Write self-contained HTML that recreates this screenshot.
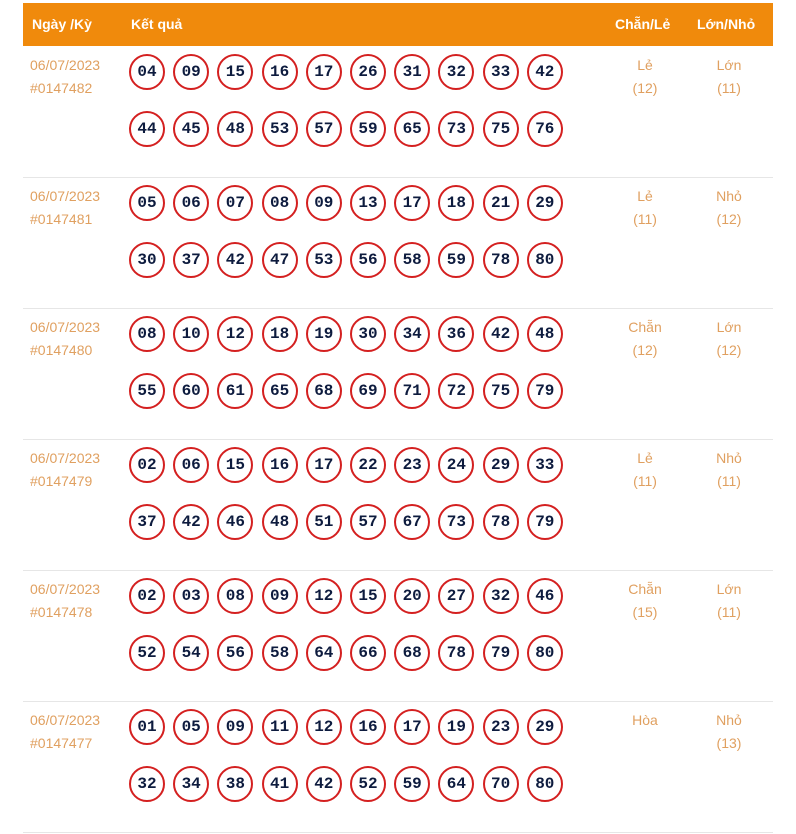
<!DOCTYPE html>
<html><head><meta charset="utf-8"><style>
body{margin:0;background:#fff;width:796px;height:834px;overflow:hidden;font-family:"Liberation Sans",sans-serif;position:relative}
.hd{position:absolute;left:23px;top:3px;width:750px;height:43px;background:#f08a0c;color:#fff;font-weight:bold;font-size:14px}
.hd span{position:absolute;top:13px}
.row{position:absolute;left:23px;width:750px;height:131px;border-bottom:1px solid #e6e6e6}
.t{position:absolute;color:#e0a060;font-size:14px;line-height:23px}
.b{position:absolute;width:32px;height:32px;border:2px solid #d42020;border-radius:50%;text-align:center;line-height:32px;font-family:"Liberation Mono",monospace;font-weight:bold;font-size:16px;color:#0d1b3e}
</style></head><body>
<div class="hd"><span style="left:9px">Ngày /Kỳ</span><span style="left:108px">Kết quả</span><span style="left:592px">Chẵn/Lẻ</span><span style="left:674px">Lớn/Nhỏ</span></div>
<div id="c"></div>
<script>
var d=[["0147482","04 09 15 16 17 26 31 32 33 42 44 45 48 53 57 59 65 73 75 76","Lẻ","(12)","Lớn","(11)"],
["0147481","05 06 07 08 09 13 17 18 21 29 30 37 42 47 53 56 58 59 78 80","Lẻ","(11)","Nhỏ","(12)"],
["0147480","08 10 12 18 19 30 34 36 42 48 55 60 61 65 68 69 71 72 75 79","Chẵn","(12)","Lớn","(12)"],
["0147479","02 06 15 16 17 22 23 24 29 33 37 42 46 48 51 57 67 73 78 79","Lẻ","(11)","Nhỏ","(11)"],
["0147478","02 03 08 09 12 15 20 27 32 46 52 54 56 58 64 66 68 78 79 80","Chẵn","(15)","Lớn","(11)"],
["0147477","01 05 09 11 12 16 17 19 23 29 32 34 38 41 42 52 59 64 70 80","Hòa","","Nhỏ","(13)"]];
var h="";
d.forEach(function(r,i){var top=46+i*131;
h+='<div class="row" style="top:'+top+'px"></div>';
h+='<div class="t" style="left:30px;top:'+(top+8)+'px">06/07/2023<br>#'+r[0]+'</div>';
h+='<div class="t" style="left:605px;width:80px;text-align:center;top:'+(top+8)+'px">'+r[2]+'<br>'+r[3]+'</div>';
h+='<div class="t" style="left:689px;width:80px;text-align:center;top:'+(top+8)+'px">'+r[4]+'<br>'+r[5]+'</div>';
r[1].split(" ").forEach(function(n,j){var x=147+(j%10)*44.2-18,y=top+(j<10?26:83)-18;
h+='<div class="b" style="left:'+x+'px;top:'+y+'px">'+n+'</div>';});});
document.getElementById("c").innerHTML=h;
</script>
</body></html>
